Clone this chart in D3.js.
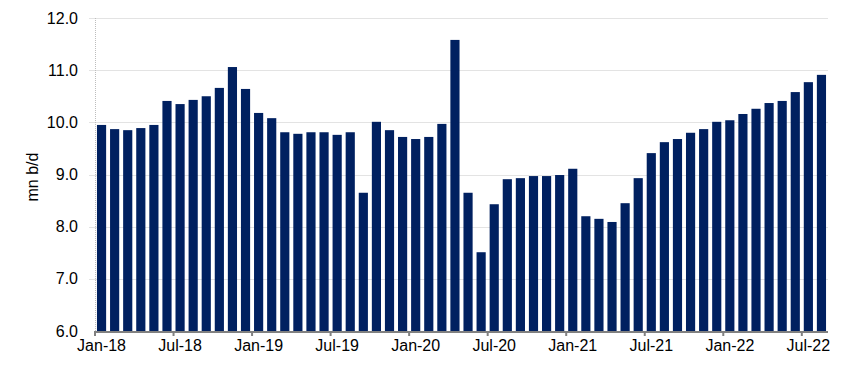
<!DOCTYPE html>
<html>
<head>
<meta charset="utf-8">
<script src="https://cdn.jsdelivr.net/npm/d3@7/dist/d3.min.js"></script>
<style>
  body { margin: 0; background: #fff; }
  text { font-family: "Liberation Sans", Arial, sans-serif; fill: #000; }
</style>
</head>
<body>
<div id="container"></div>
<script>
// monthly output, Jan-18 .. Aug-22
var years = ["18", "19", "20", "21", "22"];
var monthNames = ["Jan","Feb","Mar","Apr","May","Jun","Jul","Aug","Sep","Oct","Nov","Dec"];
var months = [];
years.forEach(function(y){
    monthNames.forEach(function(m){ months.push(m + "-" + y); });
});
months = months.slice(0, 56);

var values = [
    9.95, 9.87, 9.85, 9.89, 9.95, 10.41, 10.35, 10.43, 10.50, 10.66, 11.06, 10.64,
    10.18, 10.08, 9.81, 9.78, 9.81, 9.81, 9.76, 9.81, 8.65, 10.01, 9.85, 9.72,
    9.68, 9.72, 9.97, 11.58, 8.65, 7.51, 8.43, 8.91, 8.93, 8.97, 8.97, 8.99,
    9.11, 8.20, 8.15, 8.09, 8.45, 8.93, 9.41, 9.62, 9.68, 9.80, 9.87, 10.01,
    10.04, 10.16, 10.26, 10.37, 10.41, 10.58, 10.77, 10.91
];
var yTicks = [6, 7, 8, 9, 10, 11, 12];
var xLabels = ["Jan-18","Jul-18","Jan-19","Jul-19","Jan-20","Jul-20","Jan-21","Jul-21","Jan-22","Jul-22"];

var width = 855, height = 375;
var margin = {top: 18, right: 27, bottom: 44, left: 95};

var svg = d3.select("#container").append("svg")
    .attr("width", width).attr("height", height);

var x = d3.scaleBand()
    .domain(months)
    .range([margin.left, width - margin.right])
    .paddingInner(0.3)
    .paddingOuter(0.15);
var step = x.step();

var y = d3.scaleLinear()
    .domain([6, 12])
    .range([height - margin.bottom, margin.top]);

// gridlines
svg.append("g")
    .selectAll("line")
    .data(yTicks.slice(1))
    .enter().append("line")
    .attr("x1", margin.left - 6)
    .attr("x2", width - margin.right)
    .attr("y1", function(d){ return Math.round(y(d)) + 0.5; })
    .attr("y2", function(d){ return Math.round(y(d)) + 0.5; })
    .style("stroke", "#e3e3e3");

// left axis line
svg.append("line")
    .attr("x1", margin.left + 0.5).attr("x2", margin.left + 0.5)
    .attr("y1", margin.top).attr("y2", height - margin.bottom)
    .style("stroke", "#bdbdbd")
    .style("stroke-dasharray", "1,1");

// bars
svg.append("g")
    .selectAll("rect")
    .data(values)
    .enter().append("rect")
    .attr("x", function(d, i){ return x(months[i]); })
    .attr("width", x.bandwidth())
    .attr("y", function(d){ return y(d); })
    .attr("height", function(d){ return y(6) - y(d); })
    .style("fill", "#002060");

// y axis labels
var yAxis = d3.axisLeft(y)
    .tickValues(yTicks)
    .tickFormat(d3.format(".1f"))
    .tickSize(0)
    .tickPadding(17);
var yg = svg.append("g")
    .attr("transform", "translate(" + margin.left + ",0)")
    .call(yAxis);
yg.select(".domain").remove();
yg.selectAll("text").style("font-size", "16px").style("font-family", "Liberation Sans, Arial, sans-serif");

// x axis
var xAxis = d3.axisBottom(x)
    .tickValues(xLabels)
    .tickSize(0)
    .tickPadding(9);
var xg = svg.append("g")
    .attr("transform", "translate(0," + (height - margin.bottom) + ")")
    .call(xAxis);
xg.select(".domain").remove();
xg.selectAll("text").style("font-size", "16px").style("font-family", "Liberation Sans, Arial, sans-serif");

// category-boundary tick marks, Excel style
xg.selectAll(".tick").append("line")
    .attr("x1", -step / 2).attr("x2", -step / 2)
    .attr("y1", 0).attr("y2", 5)
    .style("stroke", "#808080")
    .style("stroke-width", 2);

svg.append("line")
    .attr("x1", margin.left).attr("x2", width - margin.right)
    .attr("y1", height - margin.bottom + 1).attr("y2", height - margin.bottom + 1)
    .style("stroke", "#808080")
    .style("stroke-width", 2);

// y title
svg.append("text")
    .attr("transform", "translate(38,177) rotate(-90)")
    .attr("text-anchor", "middle")
    .style("font-size", "16px")
    .text("mn b/d");
</script>
</body>
</html>
